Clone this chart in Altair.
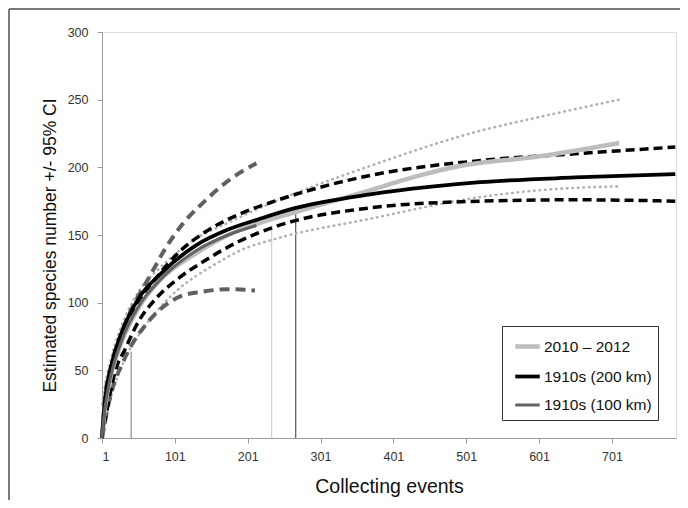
import altair as alt
import pandas as pd

# ---- data ----
# 2010 - 2012 (light grey): mean and dotted 95% CI
E2010_MEAN = [1, 5, 14, 28, 51, 83, 129, 174, 218, 267, 369, 430, 492, 600, 711]
V2010_MEAN = [0, 22, 48, 71, 96, 118, 136, 150, 159, 167, 183, 193, 201, 208, 218]
E2010_UP = [1, 5, 14, 28, 51, 83, 129, 174, 218, 369, 520, 600, 711]
V2010_UP = [25, 38, 60, 83, 108, 127, 147, 159, 170, 201, 227, 237, 250]
E2010_LO = [1, 5, 19, 33, 51, 75, 106, 152, 197, 238, 369, 520, 600, 711]
V2010_LO = [0, 12, 40, 59, 76, 93, 110, 127, 140, 147, 162, 178, 183, 186]

# 1910s (200 km) (black): mean and dashed 95% CI
E200_MEAN = [1, 2, 5, 14, 28, 51, 83, 129, 174, 218, 267, 369, 450, 520, 650, 788]
V200_MEAN = [0, 8, 27, 54, 78, 103, 122, 142, 154, 162, 170, 180, 185.5, 189, 192.5, 195]
E200_CI = [1, 4, 10, 19, 33, 51, 75, 106, 142, 188, 238, 369, 520, 650, 788]
V200_UP = [0, 17, 42, 64, 83, 100, 118, 137, 152, 165, 175, 194, 205, 210, 215]
V200_LO = [0, 9, 27, 49, 66, 86, 103, 118, 131, 145, 156, 170, 175, 176, 175]

# 1910s (100 km) (dark grey): mean and dashed 95% CI
E100_MEAN = [1, 2, 5, 14, 28, 51, 83, 129, 174, 213]
V100_MEAN = [0, 7, 22, 48, 72, 97, 118, 138, 150, 157]
E100_UP = [1, 5, 14, 28, 46, 65, 88, 110, 142, 174, 213]
V100_UP = [0, 29, 54, 78, 100, 118, 140, 157, 175, 190, 203]
E100_LO = [1, 5, 14, 28, 42, 60, 83, 110, 138, 174, 211]
V100_LO = [0, 12, 34, 54, 69, 83, 96, 105, 108, 110, 109]

# vertical marker lines
MARK_EVENTS = [41, 234, 267]
MARK_TOPS = [64, 157, 170]
MARK_COLORS = ["#7a7a7a", "#c4c4c4", "#333333"]

SERIES = ["2010 \u2013 2012", "1910s (200 km)", "1910s (100 km)"]
SERIES_COLORS = ["#bdbdbd", "#000000", "#636363"]
SERIES_WIDTHS = [4.5, 3, 3.5]

X_TICKS = [1, 51, 101, 151, 201, 251, 301, 351, 401, 451, 501, 551, 601, 651, 701, 751]
Y_TICKS = [0, 50, 100, 150, 200, 250, 300]

FONT = "Liberation Sans"


def frame(events, values, series, part):
    return pd.DataFrame({"event": events, "value": values,
                         "series": series, "part": part})


means = pd.concat([
    frame(E2010_MEAN, V2010_MEAN, SERIES[0], "mean"),
    frame(E200_MEAN, V200_MEAN, SERIES[1], "mean"),
    frame(E100_MEAN, V100_MEAN, SERIES[2], "mean"),
])
dotted = pd.concat([
    frame(E2010_UP, V2010_UP, SERIES[0], "up"),
    frame(E2010_LO, V2010_LO, SERIES[0], "lo"),
])
dashed200 = pd.concat([
    frame(E200_CI, V200_UP, SERIES[1], "up"),
    frame(E200_CI, V200_LO, SERIES[1], "lo"),
])
dashed100 = pd.concat([
    frame(E100_UP, V100_UP, SERIES[2], "up"),
    frame(E100_LO, V100_LO, SERIES[2], "lo"),
])
marks = pd.DataFrame({"event": MARK_EVENTS, "top": MARK_TOPS,
                      "base": [0, 0, 0], "col": MARK_COLORS})

xscale = alt.Scale(domain=[1, 789], nice=False, zero=False)
yscale = alt.Scale(domain=[0, 300], nice=False)

xaxis = alt.Axis(values=X_TICKS, labelExpr="datum.value % 100 == 1 ? datum.label : ''",
                 title="Collecting events", grid=False, tickSize=5,
                 domainColor="#9a9a9a", tickColor="#9a9a9a", labelColor="#333333",
                 labelFont=FONT, labelFontSize=12.5, labelPadding=7,
                 titleFont=FONT, titleFontSize=19.5, titleFontWeight="normal",
                 titleColor="#111111", titlePadding=15)
yaxis = alt.Axis(values=Y_TICKS, title="Estimated species number +/- 95% CI",
                 grid=False, tickSize=5,
                 domainColor="#9a9a9a", tickColor="#9a9a9a", labelColor="#333333",
                 labelFont=FONT, labelFontSize=12.5, labelPadding=9,
                 titleFont=FONT, titleFontSize=17.5, titleFontWeight="normal",
                 titleColor="#111111", titlePadding=8, titleY=213)

X = alt.X("event:Q", scale=xscale, axis=xaxis)
Y = alt.Y("value:Q", scale=yscale, axis=yaxis)

dotted_layer = alt.Chart(dotted).mark_line(
    color="#b0b0b0", strokeWidth=2.6, strokeDash=[0.5, 5], strokeCap="round",
    interpolate="monotone").encode(x=X, y=Y, detail="part:N")

dashed200_layer = alt.Chart(dashed200).mark_line(
    color="#000000", strokeWidth=3.5, strokeDash=[9, 5],
    interpolate="monotone").encode(x=X, y=Y, detail="part:N")

dashed100_layer = alt.Chart(dashed100).mark_line(
    color="#606060", strokeWidth=4, strokeDash=[10, 6],
    interpolate="monotone").encode(x=X, y=Y, detail="part:N")

mean_layer = alt.Chart(means).mark_line(interpolate="monotone").encode(
    x=X, y=Y,
    color=alt.Color("series:N", scale=alt.Scale(domain=SERIES, range=SERIES_COLORS),
                    legend=alt.Legend(title=None, orient="none", legendX=400, legendY=294,
                                      symbolType="stroke", symbolSize=600,
                                      symbolOffset=5,
                                      symbolStrokeWidth=4, labelFont=FONT,
                                      labelFontSize=15.5, labelColor="#111111",
                                      labelOffset=2, rowPadding=6, padding=6,
                                      strokeColor="#333333", fillColor="#ffffff")),
    strokeWidth=alt.StrokeWidth("series:N",
                                scale=alt.Scale(domain=SERIES, range=SERIES_WIDTHS),
                                legend=None),
    order=alt.Order("event:Q"),
)

rule_layer = alt.Chart(marks).mark_rule(strokeWidth=1).encode(
    x=alt.X("event:Q", scale=xscale),
    y=alt.Y("base:Q", scale=yscale),
    y2="top:Q",
    color=alt.Color("col:N", scale=None),
)

border_top = alt.Chart(marks).mark_rule(color="#7a7a7a", strokeWidth=2).encode(
    x=alt.value(-93), x2=alt.value(590), y=alt.value(-23))
border_left = alt.Chart(marks).mark_rule(color="#7a7a7a", strokeWidth=2).encode(
    x=alt.value(-93), y=alt.value(-23), y2=alt.value(470))

chart = alt.layer(
    rule_layer, dotted_layer, dashed100_layer, dashed200_layer, mean_layer,
    border_top, border_left,
).properties(
    width=574, height=406,
    autosize=alt.AutoSizeParams(type="none"),
    padding={"left": 94, "top": 24, "right": 4, "bottom": 62},
).configure_view(stroke=None).configure(background="#ffffff")

chart.save("out.html", embed_options={"renderer": "svg", "actions": False})
